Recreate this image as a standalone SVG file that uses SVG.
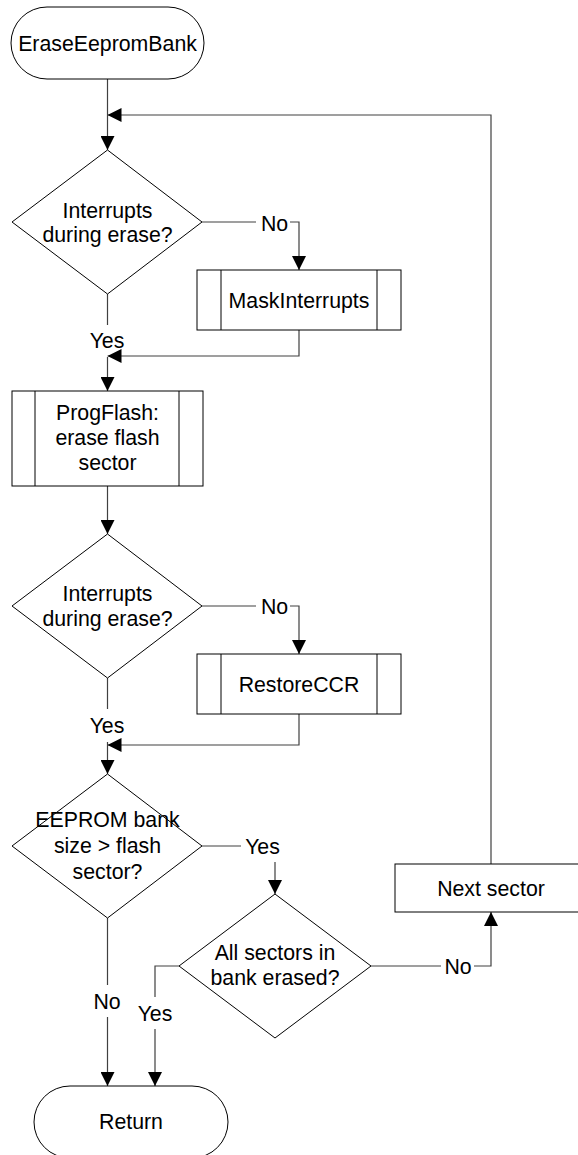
<svg xmlns="http://www.w3.org/2000/svg" width="578" height="1155" viewBox="0 0 578 1155">
<style>
.s{fill:#fff;stroke:#000;stroke-width:1}
.c{fill:none;stroke:#404040;stroke-width:1.2}
.t{font-family:"Liberation Sans",Arial,sans-serif;font-size:21.3px;fill:#000;text-anchor:middle}
</style>
<defs>
<marker id="a" markerUnits="userSpaceOnUse" markerWidth="14" markerHeight="14" refX="14" refY="7" orient="auto">
<path d="M0,0 L14,7 L0,14 z" fill="#000"/>
</marker>
</defs>
<rect width="578" height="1155" fill="#fff"/>
<g id="connectors">
<path class="c" d="M107.5 79 V150" marker-end="url(#a)"/>
<path class="c" d="M491 864 V115 H107.5" marker-end="url(#a)"/>
<path class="c" d="M202 222 H256 M290 222 H299 V270" marker-end="url(#a)"/>
<path class="c" d="M107.5 294 V325 M107.5 357 V391" marker-end="url(#a)"/>
<path class="c" d="M299 330 V356 H107.5" marker-end="url(#a)"/>
<path class="c" d="M107.5 486 V534" marker-end="url(#a)"/>
<path class="c" d="M202 606 H256 M290 606 H299 V654" marker-end="url(#a)"/>
<path class="c" d="M107.5 678 V709 M107.5 742 V774" marker-end="url(#a)"/>
<path class="c" d="M299 714 V745 H107.5" marker-end="url(#a)"/>
<path class="c" d="M202 846 H241 M275 862 V894" marker-end="url(#a)"/>
<path class="c" d="M107.5 918 V985 M107.5 1017 V1086" marker-end="url(#a)"/>
<path class="c" d="M179 966 H155 V997 M155 1029 V1086" marker-end="url(#a)"/>
<path class="c" d="M371 966 H441 M474 966 H491 V912" marker-end="url(#a)"/>
</g>
<g id="labels">
<text class="t" x="274.5" y="230.5">No</text>
<text class="t" x="107" y="348">Yes</text>
<text class="t" x="274.5" y="614">No</text>
<text class="t" x="107" y="732.5">Yes</text>
<text class="t" x="262.5" y="854">Yes</text>
<text class="t" x="107" y="1009">No</text>
<text class="t" x="155" y="1021">Yes</text>
<text class="t" x="458" y="974">No</text>
</g>
<g id="start">
<rect class="s" x="11" y="7" width="193" height="72" rx="36" ry="36"/>
<text class="t" x="107.5" y="50.5">EraseEepromBank</text>
</g>
<g id="d1">
<polygon class="s" points="107.5,150 202,222 107.5,294 12,222"/>
<text class="t" x="107.5" y="217.5">Interrupts</text>
<text class="t" x="107.5" y="242">during erase?</text>
</g>
<g id="mask">
<rect class="s" x="197" y="270" width="204" height="60"/>
<path class="s" d="M221 270 V330 M377 270 V330"/>
<text class="t" x="299" y="307.5">MaskInterrupts</text>
</g>
<g id="progflash">
<rect class="s" x="12" y="391" width="191" height="95"/>
<path class="s" d="M35 391 V486 M179 391 V486"/>
<text class="t" x="107.5" y="420">ProgFlash:</text>
<text class="t" x="107.5" y="445">erase flash</text>
<text class="t" x="107.5" y="470">sector</text>
</g>
<g id="d2">
<polygon class="s" points="107.5,534 202,606 107.5,678 12,606"/>
<text class="t" x="107.5" y="601">Interrupts</text>
<text class="t" x="107.5" y="626">during erase?</text>
</g>
<g id="restore">
<rect class="s" x="197" y="654" width="204" height="60"/>
<path class="s" d="M221 654 V714 M377 654 V714"/>
<text class="t" x="299" y="691.5">RestoreCCR</text>
</g>
<g id="d3">
<polygon class="s" points="107.5,774 202,846 107.5,918 12,846"/>
<text class="t" x="107.5" y="827">EEPROM bank</text>
<text class="t" x="107.5" y="853">size &gt; flash</text>
<text class="t" x="107.5" y="879">sector?</text>
</g>
<g id="d4">
<polygon class="s" points="275,894 371,966 275,1038 179,966"/>
<text class="t" x="275" y="960">All sectors in</text>
<text class="t" x="275" y="984.5">bank erased?</text>
</g>
<g id="next">
<rect class="s" x="395" y="864" width="192" height="48"/>
<text class="t" x="491" y="895.5">Next sector</text>
</g>
<g id="return">
<rect class="s" x="34" y="1086" width="194" height="72" rx="36" ry="36"/>
<text class="t" x="131" y="1129">Return</text>
</g>
</svg>
